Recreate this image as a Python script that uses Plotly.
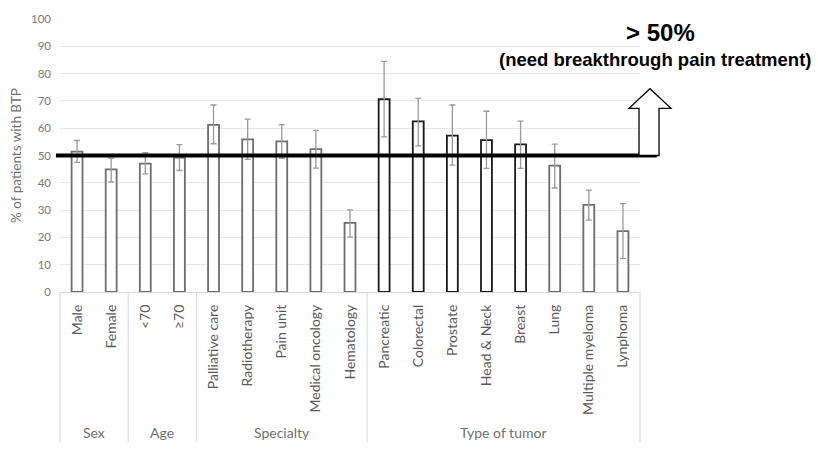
import plotly.graph_objects as go

# Categories and their group labels
categories = ["Male", "Female", "<70", "≥70", "Palliative care", "Radiotherapy",
              "Pain unit", "Medical oncology", "Hematology", "Pancreatic",
              "Colorectal", "Prostate", "Head & Neck", "Breast", "Lung",
              "Multiple myeloma", "Lynphoma"]
groups = ["Sex", "Age", "Specialty", "Type of tumor"]
group_sizes = [2, 2, 5, 8]

# % of patients with BTP and the confidence limits
pct = [51.4, 44.9, 47.0, 49.2, 61.2, 55.9, 55.2, 52.3, 25.3, 70.6,
       62.5, 57.3, 55.6, 54.1, 46.3, 31.9, 22.3]
ci_high = [55.5, 49.0, 51.0, 54.0, 68.5, 63.3, 61.3, 59.2, 30.1, 84.5,
           70.9, 68.5, 66.2, 62.6, 54.2, 37.3, 32.4]
ci_low = [47.5, 40.3, 43.3, 44.5, 54.3, 48.6, 49.0, 45.4, 20.1, 56.8,
          53.5, 46.5, 45.3, 45.3, 38.1, 26.3, 12.2]

threshold = 50
y_ticks = list(range(0, 101, 10))
highlighted = {"Pancreatic", "Colorectal", "Prostate", "Head & Neck", "Breast"}

n = len(categories)
xpos = list(range(n))
Y_MAX = 100

outline = ["#1a1a1a" if c in highlighted else "#6e6e6e" for c in categories]

fig = go.Figure()
fig.add_trace(go.Bar(
    x=xpos, y=pct, width=0.32,
    marker=dict(color="white", line=dict(color=outline, width=1.8)),
    error_y=dict(type="data", symmetric=False,
                 array=[h - v for h, v in zip(ci_high, pct)],
                 arrayminus=[v - l for v, l in zip(pct, ci_low)],
                 color="#9a9a9a", thickness=1.3, width=3),
    showlegend=False,
))

def px_x(d):
    # data x -> paper x
    return (d + 0.5) / n

shapes = []
annotations = []

# Divider lines below the axis between groups
bounds = [-0.5]
acc = -0.5
for s in group_sizes:
    acc += s
    bounds.append(acc)
for b in bounds:
    shapes.append(dict(type="line", xref="paper", yref="paper",
                       x0=px_x(b), x1=px_x(b), y0=0, y1=-0.55,
                       line=dict(color="#dcdcdc", width=1.2)))

# Group names
start = 0
for g, s in zip(groups, group_sizes):
    centre = start + (s - 1) / 2
    annotations.append(dict(x=px_x(centre), y=-0.514, xref="paper", yref="paper",
                            xanchor="center", yanchor="middle",
                            text=g, showarrow=False,
                            font=dict(family="Lato", size=14, color="#707070")))
    start += s

# Threshold line
ty = threshold / Y_MAX
shapes.append(dict(type="line", xref="paper", yref="paper",
                   x0=-0.007, x1=1.029, y0=ty, y1=ty,
                   line=dict(color="black", width=4)))

# Hollow upward arrow
arrow_pts = [(0.9983, ty), (0.9983, 0.6727), (0.981, 0.6727), (1.0172, 0.7446),
             (1.0534, 0.6727), (1.0328, 0.6727), (1.0328, ty)]
path = "M " + " L ".join(f"{x},{y}" for x, y in arrow_pts) + " Z"
shapes.append(dict(type="path", xref="paper", yref="paper", path=path,
                   fillcolor="white", line=dict(color="black", width=1.3)))

annotations.append(dict(x=1.036, y=0.95, xref="paper", yref="paper",
                        xanchor="center", yanchor="middle",
                        text="<b>&gt; 50%</b>", showarrow=False,
                        font=dict(family="Liberation Sans", size=24, color="black")))
annotations.append(dict(x=1.0267, y=0.853, xref="paper", yref="paper",
                        xanchor="center", yanchor="middle",
                        text="<b>(need breakthrough pain treatment)</b>", showarrow=False,
                        font=dict(family="Liberation Sans", size=18.5, color="black")))

fig.update_layout(
    width=818, height=450,
    margin=dict(l=60, r=178, t=14, b=158),
    paper_bgcolor="white", plot_bgcolor="white",
    shapes=shapes, annotations=annotations,
    xaxis=dict(range=[-0.5, n - 0.5], tickmode="array", tickvals=xpos,
               ticktext=categories, tickangle=-90, showgrid=False,
               showline=True, linecolor="#d9d9d9", linewidth=1.2,
               ticks="", ticklabelstandoff=6, zeroline=False,
               tickfont=dict(family="Lato", size=14, color="#5a5a5a")),
    yaxis=dict(range=[0, Y_MAX], tickmode="array", tickvals=y_ticks,
               showgrid=True, gridcolor="#e6e6e6", gridwidth=1.2,
               zeroline=False, showline=False, ticks="",
               ticklabelstandoff=8,
               tickfont=dict(family="Lato", size=11.5, color="#7a7a7a"),
               title=dict(text="% of patients with BTP", standoff=6,
                          font=dict(family="Lato", size=13.5, color="#707070"))),
)

fig.write_html("out.html")
